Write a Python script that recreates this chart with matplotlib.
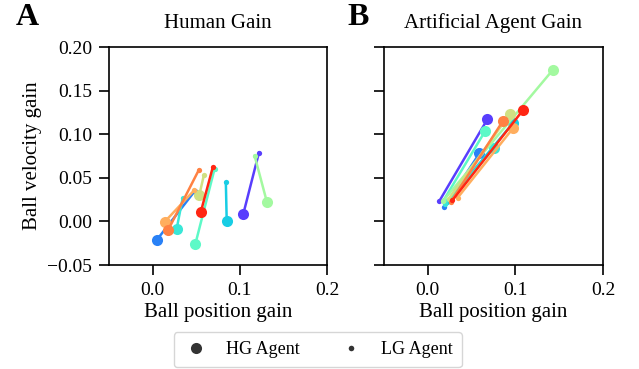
import numpy as np
import matplotlib
matplotlib.use("Agg")
import matplotlib.pyplot as plt
from matplotlib.lines import Line2D

plt.rcParams['font.family'] = ['Liberation Serif', 'DejaVu Serif']

# one entry per subject, ordered by colour (purple -> red)
cmap_pos = [0.08, 0.17, 0.30, 0.36, 0.43, 0.57, 0.66, 0.76, 0.83, 0.95]

# Human gain: HG (big marker) and LG (small marker) points
human_hg_x = [0.104, 0.005, 0.085, 0.0275, 0.049, 0.131, 0.0535, 0.014, 0.018, 0.0553]
human_hg_y = [0.0085, -0.021, 0.000, -0.009, -0.026, 0.0226, 0.030, -0.0003, -0.0095, 0.011]
human_lg_x = [0.122, 0.0485, 0.084, 0.0344, 0.071, 0.117, 0.0588, 0.048, 0.053, 0.069]
human_lg_y = [0.079, 0.035, 0.045, 0.0265, 0.060, 0.0753, 0.053, 0.036, 0.059, 0.062]

# Artificial agent gain
agent_hg_x = [0.068, 0.059, 0.097, 0.076, 0.0653, 0.143, 0.094, 0.0974, 0.086, 0.109]
agent_hg_y = [0.117, 0.078, 0.1125, 0.0845, 0.1033, 0.174, 0.1235, 0.107, 0.1155, 0.128]
agent_lg_x = [0.013, 0.019, 0.022, 0.020, 0.018, 0.017, 0.024, 0.034, 0.026, 0.028]
agent_lg_y = [0.023, 0.017, 0.022, 0.020, 0.024, 0.023, 0.026, 0.027, 0.022, 0.024]

colors = plt.cm.rainbow(cmap_pos)

fig = plt.figure(figsize=(6.39, 3.69), dpi=100)
axA = fig.add_axes([0.1706, 0.2818, 0.3411, 0.5908])
axB = fig.add_axes([0.6009, 0.2818, 0.3427, 0.5908], sharey=axA)


def draw(ax, hx, hy, lx, ly):
    for i in range(len(hx)):
        ax.plot([hx[i], lx[i]], [hy[i], ly[i]], '-', color=colors[i], lw=1.8)
        ax.plot(hx[i], hy[i], 'o', color=colors[i], ms=8, mew=0)
        ax.plot(lx[i], ly[i], 'o', color=colors[i], ms=3.8, mew=0)
    ax.set_xlim(-0.05, 0.2)
    ax.set_ylim(-0.05, 0.2)
    ax.set_xticks([0.0, 0.1, 0.2])
    ax.set_xticklabels(['0.0', '0.1', '0.2'])
    ax.set_yticks([-0.05, 0.0, 0.05, 0.10, 0.15, 0.20])
    ax.tick_params(labelsize=14, width=1.2, length=7, pad=5)
    for s in ax.spines.values():
        s.set_linewidth(1.2)
    ax.set_xlabel('Ball position gain', fontsize=15, labelpad=3)


draw(axA, human_hg_x, human_hg_y, human_lg_x, human_lg_y)
draw(axB, agent_hg_x, agent_hg_y, agent_lg_x, agent_lg_y)

axA.set_yticklabels(['\u22120.05', '0.00', '0.05', '0.10', '0.15', '0.20'])
axB.tick_params(labelleft=False)
axA.set_ylabel('Ball velocity gain', fontsize=15, labelpad=4)
axA.set_title('Human Gain', fontsize=15, pad=14)
axB.set_title('Artificial Agent Gain', fontsize=15, pad=14)

fig.text(0.042, 0.952, 'A', fontsize=23, fontweight='bold', ha='center', va='center')
fig.text(0.561, 0.952, 'B', fontsize=23, fontweight='bold', ha='center', va='center')

handles = [Line2D([], [], ls='none', marker='o', color='#333333', ms=8, mew=0),
           Line2D([], [], ls='none', marker='o', color='#333333', ms=4, mew=0)]
fig.legend(handles, ['HG Agent', 'LG Agent'], loc='lower center', ncol=2,
           bbox_to_anchor=(0.497, -0.02), fontsize=13, columnspacing=2.1,
           handletextpad=0.9, handlelength=1.5, borderpad=0.5,
           frameon=True, edgecolor='#cccccc')

fig.savefig('out.png', dpi=100)
